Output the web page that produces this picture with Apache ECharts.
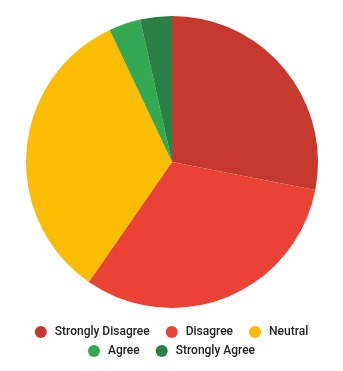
<!DOCTYPE html>
<html><head><meta charset="utf-8">
<script src="https://cdn.jsdelivr.net/npm/echarts@6/dist/echarts.min.js"></script>
<style>html,body{margin:0;padding:0;background:#fff}#c{width:343px;height:371px}</style>
</head><body><div id="c"></div>
<script>
const categories = ['Strongly Disagree','Disagree','Neutral','Agree','Strongly Agree'];
const values = [16, 18, 19, 2, 2];
const colors = ['#c5392f','#ea4335','#fbbc04','#34a853','#2a8044'];
const chart = echarts.init(document.getElementById('c'));
const legendText = {fontFamily:'Roboto', fontSize:12, fontWeight:500, color:'#222', padding:[0,0,0,3]};
chart.setOption({
  animation:false,
  color: colors,
  legend:[
    {data:categories.slice(0,3), top:321, left:'center', icon:'circle', itemWidth:12, itemHeight:12, itemGap:16, textStyle:legendText},
    {data:categories.slice(3), top:340, left:'center', icon:'circle', itemWidth:12, itemHeight:12, itemGap:16, textStyle:legendText}
  ],
  series:[{
    type:'pie', center:[172,162], radius:146, startAngle:90, clockwise:true,
    label:{show:false}, labelLine:{show:false},
    itemStyle:{borderWidth:0},
    data: categories.map((n,i)=>({name:n, value:values[i]}))
  }]
});
</script></body></html>
